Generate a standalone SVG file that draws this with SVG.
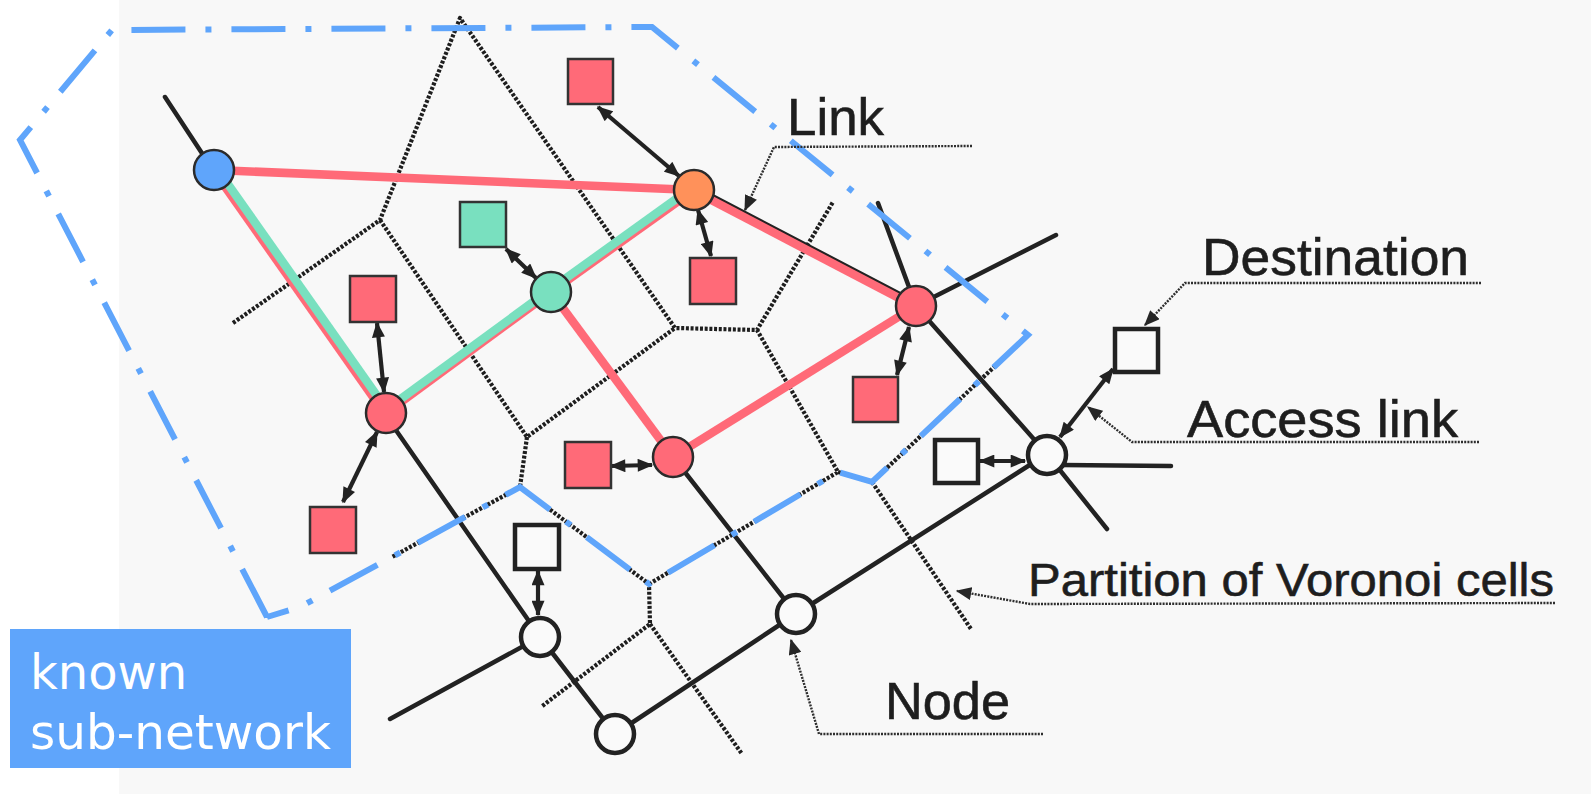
<svg xmlns="http://www.w3.org/2000/svg" width="1591" height="794" viewBox="0 0 1591 794">
<style>
.bg{fill:#f8f8f8}
.vor{fill:none;stroke:#1e1e1e;stroke-width:4.2;stroke-dasharray:3 1.7;stroke-linejoin:round}
.net{fill:none;stroke:#222;stroke-width:4.5;stroke-linecap:round;stroke-linejoin:round}
.known{fill:none;stroke:#5fa5fb;stroke-width:6;stroke-dasharray:54 20 6 20;stroke-linejoin:miter}
.pk{fill:none;stroke:#ff6a78;stroke-width:8.5;stroke-linecap:butt}
.gr{fill:none;stroke:#79e0bf;stroke-width:8.5;stroke-linecap:butt}
.acc{fill:none;stroke:#222;stroke-width:4.2;marker-start:url(#ah);marker-end:url(#ah)}
.lead{fill:none;stroke:#2e2e2e;stroke-width:2.4;stroke-dasharray:2 1.2}
.cn{stroke:#2b2b2b;stroke-width:2.5}
.wn{fill:#fafafa;stroke:#222;stroke-width:4.5}
.sq{stroke:#333;stroke-width:2.5}
.wsq{fill:#fafafa;stroke:#222;stroke-width:4.5}
.lbl{font-family:"Liberation Sans",Arial,sans-serif;font-size:52px;fill:#1e1e1e;stroke:#1e1e1e;stroke-width:0.6}
.boxt{font-family:"DejaVu Sans",sans-serif;font-size:48px;fill:#ffffff}
</style>
<defs>
<marker id="ah" viewBox="0 0 12 10" refX="11" refY="5" markerWidth="17" markerHeight="13" markerUnits="userSpaceOnUse" orient="auto-start-reverse"><path d="M0,0 L12,5 L0,10 z" fill="#222"/></marker>
<marker id="lh" viewBox="0 0 12 10" refX="11" refY="5" markerWidth="16" markerHeight="13" markerUnits="userSpaceOnUse" orient="auto"><path d="M0,0 L12,5 L0,10 z" fill="#262626"/></marker>
</defs>
<rect x="0" y="0" width="1591" height="794" fill="#ffffff"/>
<rect class="bg" x="119" y="0" width="1472" height="794"/>

<g id="voronoi">
<polyline class="vor" points="233,323 380,220 460,18 675,328 757,330 833,202"/>
<polyline class="vor" points="380,220 527,437 675,328"/>
<polyline class="vor" points="527,437 520,487 392,557"/>
<polyline class="vor" points="520,487 649,584 650,624 541,707"/>
<polyline class="vor" points="650,624 742,754"/>
<polyline class="vor" points="649,584 838,472 757,330"/>
<polyline class="vor" points="838,472 872,482 1028,335"/>
<polyline class="vor" points="872,482 971,629"/>
</g>

<g id="connectors">
<polyline class="net" points="165,97 213,170 384,413 540,637 615,734"/>
<polyline class="net" points="390,719 540,637"/>
<polyline class="net" points="615,734 796,614 1047,454"/>
<polyline class="net" points="551,292 673,457 796,614"/>
<polyline class="net" points="878,203 916,306 1047,454 1107,529"/>
<line class="net" x1="916" y1="306" x2="1056" y2="235"/>
<line class="net" x1="1062" y1="465" x2="1171" y2="466"/>
<line class="net" x1="695" y1="187" x2="917" y2="303"/>

<polyline class="known" points="267,617 20,140 112,30 652,27 1028,335 872,482 838,472 649,584 520,487 392,557 300,607 267,617"/>

<line class="pk" x1="215" y1="170" x2="694" y2="190"/>
<line class="pk" x1="694" y1="191" x2="916" y2="307"/>
<line class="pk" x1="916" y1="306" x2="673" y2="457"/>
<line class="pk" x1="673" y1="457" x2="551" y2="292"/>
<line class="pk" x1="551" y1="292" x2="694" y2="190"/>
<line class="pk" x1="386" y1="413" x2="551" y2="292"/>
<line class="pk" x1="214" y1="171" x2="385" y2="414"/>
<line class="gr" x1="217" y1="168.6" x2="387" y2="410"/>
<line class="gr" x1="387" y1="409" x2="549.5" y2="290"/>
<line class="gr" x1="549.5" y1="290" x2="690" y2="189"/>

<line class="acc" x1="598" y1="107" x2="679" y2="176"/>
<line class="acc" x1="506" y1="249" x2="536" y2="278"/>
<line class="acc" x1="698" y1="210" x2="711" y2="256"/>
<line class="acc" x1="377" y1="323" x2="384" y2="392"/>
<line class="acc" x1="377" y1="432" x2="343" y2="502"/>
<line class="acc" x1="611" y1="466" x2="652" y2="465"/>
<line class="acc" x1="897" y1="375" x2="909" y2="327"/>
<line class="acc" x1="538" y1="571" x2="538" y2="615"/>
<line class="acc" x1="980" y1="461" x2="1025" y2="461"/>
<line class="acc" x1="1113" y1="369" x2="1060" y2="437"/>

<polyline class="lead" points="972,146 774,147 745,210" marker-end="url(#lh)"/>
<polyline class="lead" points="1481,283 1185,283 1145,325" marker-end="url(#lh)"/>
<polyline class="lead" points="1479,442 1132,442 1088,407" marker-end="url(#lh)"/>
<polyline class="lead" points="1555,603 1030,604 957,591" marker-end="url(#lh)"/>
<polyline class="lead" points="1043,734 819,734 791,640" marker-end="url(#lh)"/>
</g>

<g id="node-blue"><circle class="cn" cx="214" cy="170" r="20" fill="#5fa5fb"/></g>
<g id="node-orange"><circle class="cn" cx="694" cy="190" r="20" fill="#ff915a"/></g>
<g id="node-green"><circle class="cn" cx="551" cy="292" r="20" fill="#79e0bf"/></g>
<g id="node-red-left"><circle class="cn" cx="386" cy="413" r="20" fill="#ff6a78"/></g>
<g id="node-red-bottom"><circle class="cn" cx="673" cy="457" r="20" fill="#ff6a78"/></g>
<g id="node-red-right"><circle class="cn" cx="916" cy="306" r="20" fill="#ff6a78"/></g>
<g id="node-white-bl"><circle class="wn" cx="540" cy="637" r="19"/></g>
<g id="node-white-bottom"><circle class="wn" cx="615" cy="734" r="19"/></g>
<g id="node-white-mid"><circle class="wn" cx="796" cy="614" r="19"/></g>
<g id="node-white-right"><circle class="wn" cx="1047" cy="455" r="19"/></g>

<g id="sq-top"><rect class="sq" x="568" y="59" width="45" height="45" fill="#ff6a78"/></g>
<g id="sq-green"><rect class="sq" x="460" y="202" width="46" height="45" fill="#79e0bf"/></g>
<g id="sq-under-orange"><rect class="sq" x="690" y="258" width="46" height="46" fill="#ff6a78"/></g>
<g id="sq-left"><rect class="sq" x="350" y="276" width="46" height="46" fill="#ff6a78"/></g>
<g id="sq-bottom-left"><rect class="sq" x="310" y="507" width="46" height="46" fill="#ff6a78"/></g>
<g id="sq-mid"><rect class="sq" x="565" y="442" width="46" height="46" fill="#ff6a78"/></g>
<g id="sq-right"><rect class="sq" x="853" y="377" width="45" height="45" fill="#ff6a78"/></g>
<g id="sq-white-bl"><rect class="wsq" x="515" y="525" width="44" height="44"/></g>
<g id="sq-white-right"><rect class="wsq" x="935" y="440" width="43" height="43"/></g>
<g id="sq-destination"><rect class="wsq" x="1115" y="329" width="43" height="43"/></g>

<g id="label-link"><text class="lbl" x="787" y="135" textLength="97" lengthAdjust="spacingAndGlyphs">Link</text></g>
<g id="label-destination"><text class="lbl" x="1202" y="275" textLength="267" lengthAdjust="spacingAndGlyphs">Destination</text></g>
<g id="label-access"><text class="lbl" x="1187" y="437" textLength="271" lengthAdjust="spacingAndGlyphs">Access link</text></g>
<g id="label-partition"><text class="lbl" style="font-size:46px" x="1028" y="596" textLength="526" lengthAdjust="spacingAndGlyphs">Partition of Voronoi cells</text></g>
<g id="label-node"><text class="lbl" x="885" y="719" textLength="125" lengthAdjust="spacingAndGlyphs">Node</text></g>

<g id="known-subnetwork">
<rect x="10" y="629" width="341" height="139" fill="#5fa5fb"/>
<text class="boxt" x="30" y="689">known</text>
<text class="boxt" x="30" y="749" textLength="301" lengthAdjust="spacingAndGlyphs">sub-network</text>
</g>
</svg>
